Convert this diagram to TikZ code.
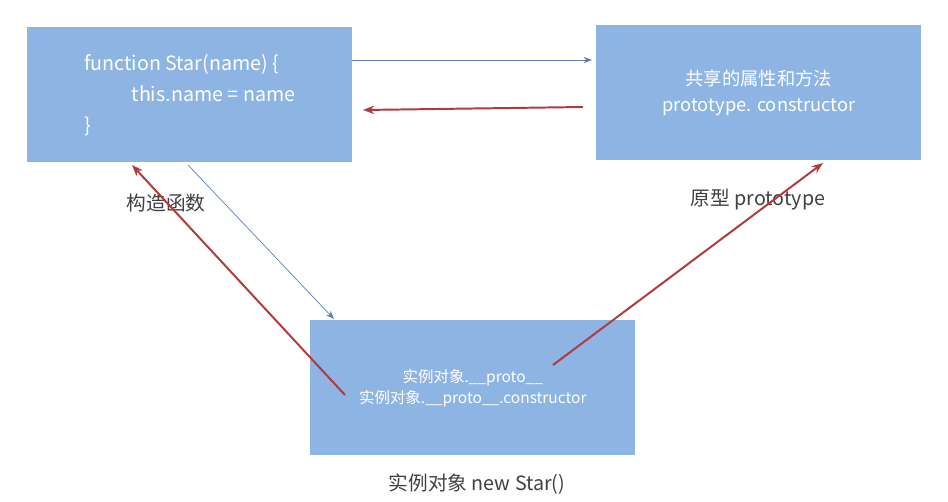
\documentclass[tikz,border=0pt]{standalone}
\usepackage{fontspec}
\setmainfont{Noto Sans CJK SC}
\usepackage{tikz}
\usetikzlibrary{arrows.meta,positioning}
\definecolor{boxblue}{HTML}{8EB4E3}
\definecolor{linkred}{HTML}{B03A3C}
\definecolor{linkblue}{HTML}{5B7FB5}
\definecolor{captiongray}{HTML}{404040}

\begin{document}
\begin{tikzpicture}[x=0.025cm, y=-0.025cm,
    box/.style={draw=none, rectangle, fill=boxblue, minimum width=8.125cm, minimum height=3.375cm, text=white, align=center},
    caption/.style={text=captiongray, font=\fontsize{14}{16}\selectfont},
    thin arrow/.style={-{Stealth[length=6pt]}, linkblue, line width=0.5pt},
    red arrow/.style={-{Stealth[length=8pt]}, linkred, line width=1.4pt}
]
    \useasboundingbox (0,0) rectangle (948,501);

    \node[box, anchor=north west, align=left, font=\fontsize{14}{22}\selectfont] (ctor) at (27,27)
        {function Star(\textit{name}) \{\\\hspace*{2.4em}this.name = \textit{name}\\\}};
    \node[box, anchor=north west, font=\fontsize{13}{18}\selectfont] (proto) at (596,25)
        {共享的属性和方法\\prototype. constructor};
    \node[box, anchor=north west, font=\fontsize{11}{15}\selectfont] (inst) at (310,320)
        {实例对象.\_\_proto\_\_\\实例对象.\_\_proto\_\_.constructor};

    \node[caption] (ctorlab) at (166,203) {构造函数};
    \node[caption] (protolab) at (758,200) {原型 prototype};
    \node[caption] (instlab) at (477,484) {实例对象 new Star()};

    % links
    \coordinate (a1) at (352,60);  \coordinate (a2) at (592,60);
    \coordinate (b1) at (583,107); \coordinate (b2) at (363,110);
    \coordinate (c1) at (188,165); \coordinate (c2) at (334,319);
    \coordinate (d1) at (345,395); \coordinate (d2) at (132,165);
    \coordinate (e1) at (553,365); \coordinate (e2) at (823,163);
    \draw[thin arrow] (a1) -- (a2);
    \draw[red arrow] (b1) -- (b2);
    \draw[thin arrow] (c1) -- (c2);
    \draw[red arrow] (d1) -- (d2);
    \draw[red arrow] (e1) -- (e2);
\end{tikzpicture}
\end{document}
